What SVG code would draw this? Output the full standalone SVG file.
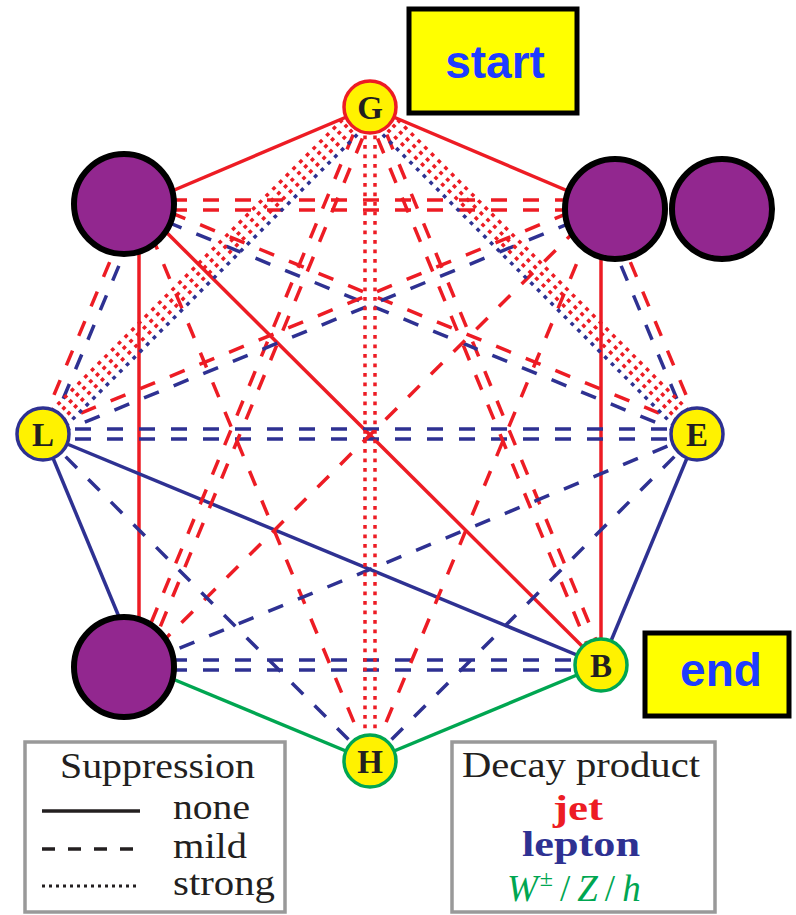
<svg xmlns="http://www.w3.org/2000/svg" width="796" height="915" viewBox="0 0 796 915">
<style>
.r{stroke:#ED1C24;fill:none;stroke-width:3.5}
.b{stroke:#2E3192;fill:none;stroke-width:3.5}
.g{stroke:#00A651;fill:none;stroke-width:3.5}
.d{stroke-dasharray:16 16}
.o{stroke-dasharray:3.8 5.7}
.node{fill:#FFF200;stroke-width:3.5}
.purple{fill:#92278F;stroke:#000;stroke-width:6}
.lbl{font-family:"Liberation Serif","DejaVu Serif",serif;font-weight:bold;font-size:33px;fill:#231F20;text-anchor:middle}
.box{fill:#FFFF00;stroke:#000;stroke-width:5}
.btxt{font-family:"Liberation Sans",Arial,sans-serif;font-weight:bold;fill:#1E3CFF;text-anchor:middle}
.leg{fill:#fff;stroke:#999;stroke-width:3.5}
.lt{font-family:"Liberation Serif","DejaVu Serif",serif;font-size:35px;fill:#231F20}
.tjet{fill:#ED1C24;font-weight:bold}
.tlep{fill:#2E3192;font-weight:bold}
.twzh{fill:#00A651;font-size:37px}
.sup{font-size:24px}
</style>
<rect width="796" height="915" fill="#fff"/>
<g id="connectors">
  <line class="r" x1="370" y1="107" x2="139" y2="205"/>
  <line class="r" x1="370" y1="107" x2="601" y2="205"/>
  <line class="r" x1="139" y1="205" x2="139" y2="665"/>
  <line class="r" x1="601" y1="205" x2="601" y2="665"/>
  <line class="r" x1="139" y1="205" x2="601" y2="665"/>
  <line class="b" x1="43" y1="434" x2="601" y2="665"/>
  <line class="b" x1="43" y1="434" x2="139" y2="665"/>
  <line class="b" x1="697" y1="434" x2="601" y2="665"/>
  <line class="g" x1="139" y1="665" x2="370" y2="761"/>
  <line class="g" x1="601" y1="665" x2="370" y2="761"/>
  <line class="r d" x1="139" y1="200" x2="601" y2="200"/>
  <line class="r d" x1="139" y1="210" x2="601" y2="210"/>
  <line class="b d" x1="43" y1="429" x2="697" y2="429"/>
  <line class="b d" x1="43" y1="439" x2="697" y2="439"/>
  <line class="b d" x1="139" y1="660" x2="601" y2="660"/>
  <line class="b d" x1="139" y1="670" x2="601" y2="670"/>
  <line class="r d" x1="365.4" y1="105.1" x2="134.4" y2="663.1"/>
  <line class="r d" x1="374.6" y1="108.9" x2="143.6" y2="666.9"/>
  <line class="r d" x1="374.6" y1="105.1" x2="605.6" y2="663.1"/>
  <line class="r d" x1="365.4" y1="108.9" x2="596.4" y2="666.9"/>
  <line class="r d" x1="134.4" y1="203.1" x2="38.4" y2="432.1"/>
  <line class="b d" x1="143.6" y1="206.9" x2="47.6" y2="435.9"/>
  <line class="r d" x1="605.6" y1="203.1" x2="701.6" y2="432.1"/>
  <line class="b d" x1="596.4" y1="206.9" x2="692.4" y2="435.9"/>
  <line class="r d" x1="140.9" y1="200.4" x2="698.9" y2="429.4"/>
  <line class="b d" x1="137.1" y1="209.6" x2="695.1" y2="438.6"/>
  <line class="r d" x1="599.1" y1="200.4" x2="41.1" y2="429.4"/>
  <line class="b d" x1="602.9" y1="209.6" x2="44.9" y2="438.6"/>
  <line class="r d" x1="139" y1="205" x2="370" y2="761"/>
  <line class="r d" x1="601" y1="205" x2="370" y2="761"/>
  <line class="r d" x1="601" y1="205" x2="139" y2="665"/>
  <line class="b d" x1="43" y1="434" x2="370" y2="761"/>
  <line class="b d" x1="697" y1="434" x2="370" y2="761"/>
  <line class="b d" x1="697" y1="434" x2="139" y2="665"/>
  <line class="r o" x1="365" y1="107" x2="365" y2="761"/>
  <line class="r o" x1="375" y1="107" x2="375" y2="761"/>
  <line class="r o" x1="362.6" y1="99.6" x2="35.6" y2="426.6"/>
  <line class="r o" x1="367.5" y1="104.5" x2="40.5" y2="431.5"/>
  <line class="r o" x1="372.5" y1="109.5" x2="45.5" y2="436.5"/>
  <line class="b o" x1="377.4" y1="114.4" x2="50.4" y2="441.4"/>
  <line class="r o" x1="377.4" y1="99.6" x2="704.4" y2="426.6"/>
  <line class="r o" x1="372.5" y1="104.5" x2="699.5" y2="431.5"/>
  <line class="r o" x1="367.5" y1="109.5" x2="694.5" y2="436.5"/>
  <line class="b o" x1="362.6" y1="114.4" x2="689.6" y2="441.4"/>
</g>
<g id="node-G"><circle class="node" cx="370" cy="107" r="26" stroke="#ED1C24"/><text class="lbl" x="370" y="118.5">G</text></g>
<g id="node-UL"><circle class="purple" cx="124" cy="204" r="50"/></g>
<g id="node-UR"><circle class="purple" cx="615" cy="209" r="50"/></g>
<g id="node-UR2"><circle class="purple" cx="722" cy="209" r="50"/></g>
<g id="node-L"><circle class="node" cx="43" cy="434" r="26" stroke="#2E3192"/><text class="lbl" x="43" y="445.5">L</text></g>
<g id="node-E"><circle class="node" cx="697" cy="434" r="26" stroke="#2E3192"/><text class="lbl" x="697" y="445.5">E</text></g>
<g id="node-BL"><circle class="purple" cx="124" cy="667" r="50"/></g>
<g id="node-B"><circle class="node" cx="601" cy="665" r="26" stroke="#00A651"/><text class="lbl" x="601" y="676.5">B</text></g>
<g id="node-H"><circle class="node" cx="370" cy="761" r="26" stroke="#00A651"/><text class="lbl" x="370" y="772.5">H</text></g>
<g id="start"><rect class="box" x="409" y="9" width="168" height="104"/><text class="btxt" x="495" y="78" font-size="46">start</text></g>
<g id="end"><rect class="box" x="645" y="633" width="144" height="83"/><text class="btxt" x="721" y="686" font-size="46">end</text></g>
<g id="legend-suppression">
  <rect class="leg" x="25" y="742" width="260" height="170"/>
  <text class="lt" x="60" y="778" textLength="195" lengthAdjust="spacingAndGlyphs">Suppression</text>
  <line x1="42" y1="811" x2="140" y2="811" stroke="#231F20" stroke-width="3.5"/>
  <line x1="42" y1="849" x2="140" y2="849" stroke="#231F20" stroke-width="3.5" stroke-dasharray="13 13"/>
  <line x1="42" y1="886" x2="140" y2="886" stroke="#231F20" stroke-width="3" stroke-dasharray="3 4"/>
  <text class="lt" x="173" y="819" textLength="77" lengthAdjust="spacingAndGlyphs">none</text>
  <text class="lt" x="173" y="858" textLength="74" lengthAdjust="spacingAndGlyphs">mild</text>
  <text class="lt" x="173" y="895" textLength="102" lengthAdjust="spacingAndGlyphs">strong</text>
</g>
<g id="legend-decay">
  <rect class="leg" x="452" y="742" width="263" height="170"/>
  <text class="lt" x="462" y="777" textLength="238" lengthAdjust="spacingAndGlyphs">Decay product</text>
  <text class="lt tjet" x="578" y="820" text-anchor="middle" textLength="50" lengthAdjust="spacingAndGlyphs">jet</text>
  <text class="lt tlep" x="581" y="856" text-anchor="middle" textLength="118" lengthAdjust="spacingAndGlyphs">lepton</text>
  <text class="lt twzh" x="507" y="901"><tspan font-style="italic">W</tspan><tspan class="sup" dy="-15" dx="2">±</tspan><tspan dy="15" dx="7">/</tspan><tspan font-style="italic" dx="7">Z</tspan><tspan dx="7">/</tspan><tspan font-style="italic" dx="7">h</tspan></text>
</g>
</svg>
